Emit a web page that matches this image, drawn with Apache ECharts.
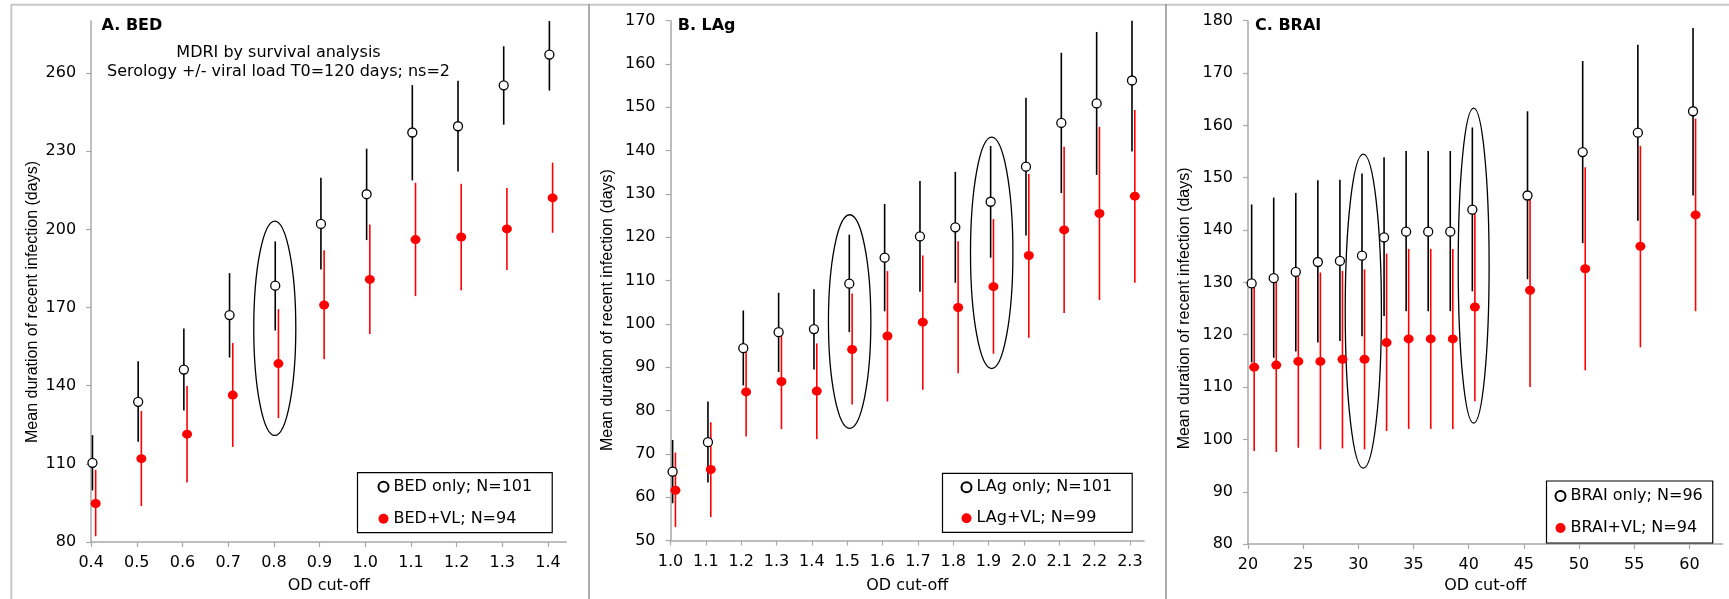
<!DOCTYPE html>
<html><head><meta charset="utf-8">
<script src="https://cdn.jsdelivr.net/npm/echarts@6/dist/echarts.min.js"></script>
<style>html,body{margin:0;padding:0;background:#fff}#c{width:1729px;height:599px}</style>
</head><body><div id="c"></div><script>
// ---------- Panel A: BED ----------
const bedCutoffs = [0.4, 0.5, 0.6, 0.7, 0.8, 0.9, 1.0, 1.1, 1.2, 1.3, 1.4];
const bedOnlyMean = [110.4, 133.8, 146.2, 167.1, 178.4, 202.1, 213.5, 237.2, 239.6, 255.3, 267.1];
const bedOnlyLow  = [99.8, 118.5, 130.5, 150.8, 161.2, 184.6, 195.9, 218.8, 222.2, 240.2, 253.3];
const bedOnlyHigh = [121.0, 149.4, 162.0, 183.2, 195.4, 219.8, 231.0, 255.4, 257.1, 270.3, 280.0];
const bedVlMean = [94.8, 112.0, 121.4, 136.4, 148.5, 171.0, 180.8, 196.1, 197.1, 200.2, 212.1];
const bedVlLow  = [82.2, 93.8, 102.8, 116.5, 127.6, 150.2, 159.8, 174.4, 176.6, 184.4, 198.7];
const bedVlHigh = [107.7, 130.3, 139.9, 156.4, 169.4, 192.0, 201.9, 217.9, 217.5, 215.9, 225.6];
const bedXTicks = [0.4, 0.5, 0.6, 0.7, 0.8, 0.9, 1.0, 1.1, 1.2, 1.3, 1.4];
const bedYTicks = [80, 110, 140, 170, 200, 230, 260];
const bedEllipses = [[0.802, 120.9, 203.2, 0.046]]; // [x, low, high, half-width]

// ---------- Panel B: LAg ----------
const lagCutoffs = [1.0, 1.1, 1.2, 1.3, 1.4, 1.5, 1.6, 1.7, 1.8, 1.9, 2.0, 2.1, 2.2, 2.3];
const lagOnlyMean = [65.9, 72.7, 94.4, 98.1, 98.8, 109.3, 115.3, 120.2, 122.3, 128.2, 136.3, 146.4, 150.9, 156.2];
const lagOnlyLow  = [58.6, 63.4, 85.8, 88.9, 89.5, 98.1, 102.9, 107.4, 109.5, 115.3, 120.4, 130.2, 134.4, 139.8];
const lagOnlyHigh = [73.2, 82.1, 103.1, 107.2, 108.0, 120.6, 127.7, 133.0, 135.1, 141.1, 152.2, 162.6, 167.4, 170.0];
const lagVlMean = [61.6, 66.4, 84.3, 86.7, 84.5, 94.1, 97.2, 100.4, 103.8, 108.6, 115.8, 121.7, 125.5, 129.5];
const lagVlLow  = [53.1, 55.4, 74.0, 75.7, 73.4, 81.4, 82.1, 84.8, 88.6, 93.1, 96.8, 102.5, 105.5, 109.5];
const lagVlHigh = [70.3, 77.3, 94.6, 97.7, 95.5, 107.0, 112.2, 115.8, 119.1, 124.2, 134.6, 140.9, 145.5, 149.4];
const lagXTicks = [1.0, 1.1, 1.2, 1.3, 1.4, 1.5, 1.6, 1.7, 1.8, 1.9, 2.0, 2.1, 2.2, 2.3];
const lagYTicks = [50, 60, 70, 80, 90, 100, 110, 120, 130, 140, 150, 160, 170];
const lagEllipses = [[1.507, 75.9, 125.2, 0.06], [1.909, 89.7, 143.1, 0.06]];

// ---------- Panel C: BRAI ----------
const braiCutoffs = [20, 22, 24, 26, 28, 30, 32, 34, 36, 38, 40, 45, 50, 55, 60];
const braiOnlyMean = [129.8, 130.8, 132.0, 133.9, 134.1, 135.1, 138.6, 139.7, 139.7, 139.7, 143.9, 146.6, 154.9, 158.6, 162.7];
const braiOnlyLow  = [114.7, 115.6, 116.8, 118.5, 118.8, 119.7, 123.6, 124.5, 124.5, 124.5, 128.3, 130.6, 137.5, 141.8, 146.6];
const braiOnlyHigh = [144.9, 146.2, 147.1, 149.5, 149.6, 150.8, 153.9, 155.1, 155.1, 155.1, 159.6, 162.7, 172.3, 175.4, 178.6];
const braiVlMean = [113.8, 114.2, 114.9, 114.9, 115.3, 115.3, 118.5, 119.2, 119.2, 119.2, 125.3, 128.5, 132.6, 136.9, 142.9];
const braiVlLow  = [97.8, 97.6, 98.4, 98.1, 98.3, 98.1, 101.6, 102.0, 102.0, 102.0, 107.3, 110.0, 113.2, 117.6, 124.5];
const braiVlHigh = [129.2, 130.2, 131.2, 131.9, 132.2, 132.5, 135.5, 136.4, 136.4, 136.4, 143.4, 146.2, 152.0, 156.1, 161.3];
const braiXTicks = [20, 25, 30, 35, 40, 45, 50, 55, 60];
const braiYTicks = [80, 90, 100, 110, 120, 130, 140, 150, 160, 170, 180];
const braiEllipses = [[30.45, 94.5, 154.5, 1.64], [40.45, 103.1, 163.3, 1.4]];

const seriesNames = {
  A: ['BED only; N=101', 'BED+VL; N=94'],
  B: ['LAg only; N=101', 'LAg+VL; N=99'],
  C: ['BRAI only; N=96', 'BRAI+VL; N=94']
};
const panelTitles = ['A. BED', 'B. LAg', 'C. BRAI'];
const yTitle = 'Mean duration of recent infection (days)';
const xTitle = 'OD cut-off';
const noteText = 'MDRI by survival analysis\nSerology +/- viral load T0=120 days; ns=2';

// ---------- helpers ----------
const FONT = 'DejaVu Sans';
const RED = '#ff0000';
const AXIS_GREY = '#a8a8a8';

function barData(xs, lo, hi, dx) { return xs.map((x, i) => [x + dx, lo[i], hi[i]]); }
function ptData(xs, ys, dx) { return xs.map((x, i) => [x + dx, ys[i]]); }

function errSeries(idx, data, color) {
  return {
    type: 'custom', xAxisIndex: idx, yAxisIndex: idx, data: data, silent: true, z: 2,
    encode: { x: 0, y: [1, 2] },
    renderItem: function (params, api) {
      const p1 = api.coord([api.value(0), api.value(1)]);
      const p2 = api.coord([api.value(0), api.value(2)]);
      return { type: 'line', shape: { x1: p1[0], y1: p1[1], x2: p2[0], y2: p2[1] },
        style: { stroke: color, lineWidth: 1.6 } };
    }
  };
}
function ellipseSeries(idx, data) {
  return {
    type: 'custom', xAxisIndex: idx, yAxisIndex: idx, data: data, silent: true, z: 4,
    encode: { x: 0, y: [1, 2] },
    renderItem: function (params, api) {
      const c = api.value(0), w = api.value(3);
      const a = api.coord([c - w, api.value(1)]);
      const b = api.coord([c + w, api.value(2)]);
      return { type: 'ellipse',
        shape: { cx: (a[0] + b[0]) / 2, cy: (a[1] + b[1]) / 2, rx: Math.abs(b[0] - a[0]) / 2, ry: Math.abs(a[1] - b[1]) / 2 },
        style: { fill: 'none', stroke: '#000', lineWidth: 1.3 } };
    }
  };
}
function hollowSeries(idx, name, data) {
  return { type: 'scatter', name: name, xAxisIndex: idx, yAxisIndex: idx, data: data, z: 5,
    symbol: 'circle', symbolSize: 9, silent: true,
    itemStyle: { color: '#fff', borderColor: '#000', borderWidth: 1.3, opacity: 1 } };
}
function filledSeries(idx, name, data) {
  return { type: 'scatter', name: name, xAxisIndex: idx, yAxisIndex: idx, data: data, z: 5,
    symbol: 'circle', symbolSize: [10, 9], silent: true,
    itemStyle: { color: RED, opacity: 1 } };
}

function xAxisCfg(idx, min, max, ticks, fmt, gap) {
  return { type: 'value', gridIndex: idx, min: min, max: max,
    name: xTitle, nameLocation: 'middle', nameGap: gap,
    nameTextStyle: { fontFamily: FONT, fontSize: 16, color: '#000' },
    splitLine: { show: false },
    axisLine: { show: true, onZero: false, lineStyle: { color: AXIS_GREY, width: 1.5 } },
    axisTick: { show: true, length: 5, lineStyle: { color: AXIS_GREY, width: 1.2 }, customValues: ticks },
    axisLabel: { fontFamily: FONT, fontSize: 16, color: '#000', margin: 13, customValues: ticks, formatter: fmt } };
}
function yAxisCfg(idx, min, max, ticks, gap, pad) {
  return { type: 'value', gridIndex: idx, min: min, max: max,
    name: yTitle, nameLocation: 'middle', nameRotate: 90, nameGap: gap,
    nameTextStyle: { fontFamily: 'Liberation Sans', fontSize: 16, color: '#000', padding: pad },
    splitLine: { show: false },
    axisLine: { show: true, onZero: false, lineStyle: { color: AXIS_GREY, width: 1.5 } },
    axisTick: { show: true, length: 5, lineStyle: { color: AXIS_GREY, width: 1.2 }, customValues: ticks },
    axisLabel: { fontFamily: FONT, fontSize: 16, color: '#000', margin: 15, customValues: ticks } };
}
function legendCfg(names, left, top, pad, gap) {
  return { show: true, orient: 'vertical', left: left, top: top, data: names,
    selectedMode: false, borderColor: '#000', borderWidth: 1.2, borderRadius: 0,
    padding: pad, itemGap: gap, itemWidth: 10, itemHeight: 10, itemTextGap: 4, icon: 'circle',
    textStyle: { fontFamily: FONT, fontSize: 16, color: '#000' } };
}
const fmt1 = v => Number(v).toFixed(1);
const fmt0 = v => String(Math.round(v));

const chart = echarts.init(document.getElementById('c'), null, { renderer: 'canvas' });
const option = {
  backgroundColor: '#fff',
  animation: false,
  title: panelTitles.map((t, i) => ({
    text: t, left: [101.6, 677.7, 1255][i], top: 18, padding: 0,
    textStyle: { fontFamily: FONT, fontSize: 16, fontWeight: 'bold', color: '#000' }
  })),
  grid: [
    { left: 91.1, top: 21, width: 475.2, height: 526 },
    { left: 670.5, top: 20.7, width: 473.5, height: 526 },
    { left: 1248, top: 20.7, width: 474.5, height: 530.3 }
  ],
  xAxis: [
    xAxisCfg(0, 0.4, 1.44, bedXTicks, fmt1, 36),
    xAxisCfg(1, 1.0, 2.34, lagXTicks, fmt1, 37.5),
    xAxisCfg(2, 20, 63, braiXTicks, fmt0, 32)
  ],
  yAxis: [
    yAxisCfg(0, 80, 280, bedYTicks, 51, [0, 41, 0, 0]),
    yAxisCfg(1, 50, 170, lagYTicks, 55, [0, 59, 0, 0]),
    yAxisCfg(2, 80, 180, braiYTicks, 55.5, [0, 52, 0, 0])
  ],
  legend: [
    legendCfg(seriesNames.A, 357.5, 472.7, [6, 20, 6, 20], 16),
    legendCfg(seriesNames.B, 942.5, 473.3, [6, 20, 6, 18], 15),
    legendCfg(seriesNames.C, 1546.5, 481, [7, 10, 7, 8], 16)
  ],
  graphic: [
    { type: 'line', shape: { x1: 11, y1: 4.7, x2: 1729, y2: 4.7 }, style: { stroke: '#c8c8c8', lineWidth: 2 }, silent: true },
    { type: 'line', shape: { x1: 11.3, y1: 4, x2: 11.3, y2: 599 }, style: { stroke: '#c8c8c8', lineWidth: 2 }, silent: true },
    { type: 'line', shape: { x1: 589, y1: 4, x2: 589, y2: 599 }, style: { stroke: '#909090', lineWidth: 1.5 }, silent: true },
    { type: 'line', shape: { x1: 1166, y1: 4, x2: 1166, y2: 599 }, style: { stroke: '#909090', lineWidth: 1.5 }, silent: true },
    { type: 'text', x: 278.5, y: 62.2, silent: true,
      style: { text: noteText, align: 'center', verticalAlign: 'middle', lineHeight: 19,
        font: '16px "DejaVu Sans"', fill: '#000' } }
  ],
  series: [
    errSeries(0, barData(bedCutoffs, bedOnlyLow, bedOnlyHigh, 0.003), '#000'),
    errSeries(0, barData(bedCutoffs, bedVlLow, bedVlHigh, 0.01), RED),
    ellipseSeries(0, bedEllipses),
    hollowSeries(0, seriesNames.A[0], ptData(bedCutoffs, bedOnlyMean, 0.003)),
    filledSeries(0, seriesNames.A[1], ptData(bedCutoffs, bedVlMean, 0.01)),

    errSeries(1, barData(lagCutoffs, lagOnlyLow, lagOnlyHigh, 0.006), '#000'),
    errSeries(1, barData(lagCutoffs, lagVlLow, lagVlHigh, 0.014), RED),
    ellipseSeries(1, lagEllipses),
    hollowSeries(1, seriesNames.B[0], ptData(lagCutoffs, lagOnlyMean, 0.006)),
    filledSeries(1, seriesNames.B[1], ptData(lagCutoffs, lagVlMean, 0.014)),

    errSeries(2, barData(braiCutoffs, braiOnlyLow, braiOnlyHigh, 0.33), '#000'),
    errSeries(2, barData(braiCutoffs, braiVlLow, braiVlHigh, 0.56), RED),
    ellipseSeries(2, braiEllipses),
    hollowSeries(2, seriesNames.C[0], ptData(braiCutoffs, braiOnlyMean, 0.33)),
    filledSeries(2, seriesNames.C[1], ptData(braiCutoffs, braiVlMean, 0.56))
  ]
};
chart.setOption(option);
</script></body></html>
